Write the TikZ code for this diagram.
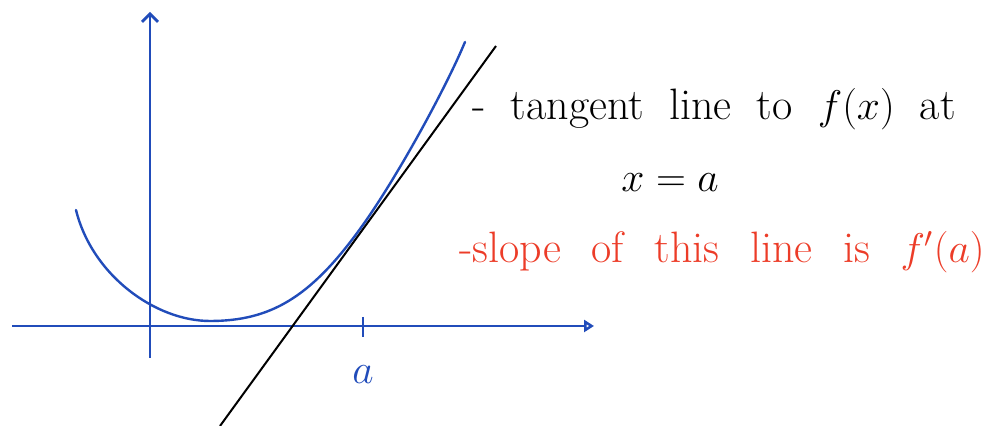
\documentclass[tikz,border=0pt]{standalone}
\usepackage{tikz}
\usetikzlibrary{positioning,arrows.meta}
\definecolor{penblue}{RGB}{33,76,186}
\definecolor{penred}{RGB}{236,60,40}

\begin{document}
\begin{tikzpicture}[x=0.5pt, y=-0.5pt,
  axis/.style={draw=penblue, line width=1.4pt},
  curve/.style={draw=penblue, line width=1.2pt, line cap=round},
  tangent/.style={draw=black, line width=1pt},
  note/.style={font=\fontsize{22}{26}\selectfont, anchor=base west, inner sep=0pt,
               execute at begin node={\spaceskip=12.6pt\relax}},
  widenote/.style={note, text=penred, execute at begin node={\spaceskip=15.3pt\relax}},
  lab/.style={font=\fontsize{22}{26}\selectfont, text=penblue, inner sep=0pt}]
\useasboundingbox (0,0) rectangle (982,426);
% axes
\coordinate (xleft) at (12,326);
\coordinate (xright) at (594,326);
\coordinate (ybot) at (150,358);
\coordinate (ytop) at (150,12);
\draw[axis, -{Triangle[open, length=5pt, width=6pt]}] (xleft) -- (xright);
\draw[axis, -{Straight Barb[length=4pt, width=8pt]}] (ybot) -- (ytop);
% tick at x = a
\coordinate (tickt) at (363,317);
\coordinate (tickb) at (363,337);
\draw[axis] (tickt) -- (tickb);
\node[lab, below=14pt of tickb] (alab) {$a$};
% the function, touching the tangent at (P)
\coordinate (start) at (76,210);
\coordinate (low) at (210,321);
\coordinate (P) at (360,229);
\coordinate (end) at (465,42);
\draw[curve] (start) .. controls (92,275) and (155,321) .. (low)
  .. controls (270,321) and (310,298) .. (P)
  .. controls (395,181) and (445,90) .. (end);
% tangent line
\coordinate (tbot) at (220,426);
\coordinate (ttop) at (496,46);
\draw[tangent] (tbot) -- (ttop);
% notes
\node[note] (line1) at (472,120) {- tangent line to $f(x)$ at};
\node[note] (line2) at (621,192) {$x = a$};
\node[widenote] (line3) at (459,263) {-slope of this line is $f'(a)$};
\end{tikzpicture}
\end{document}
